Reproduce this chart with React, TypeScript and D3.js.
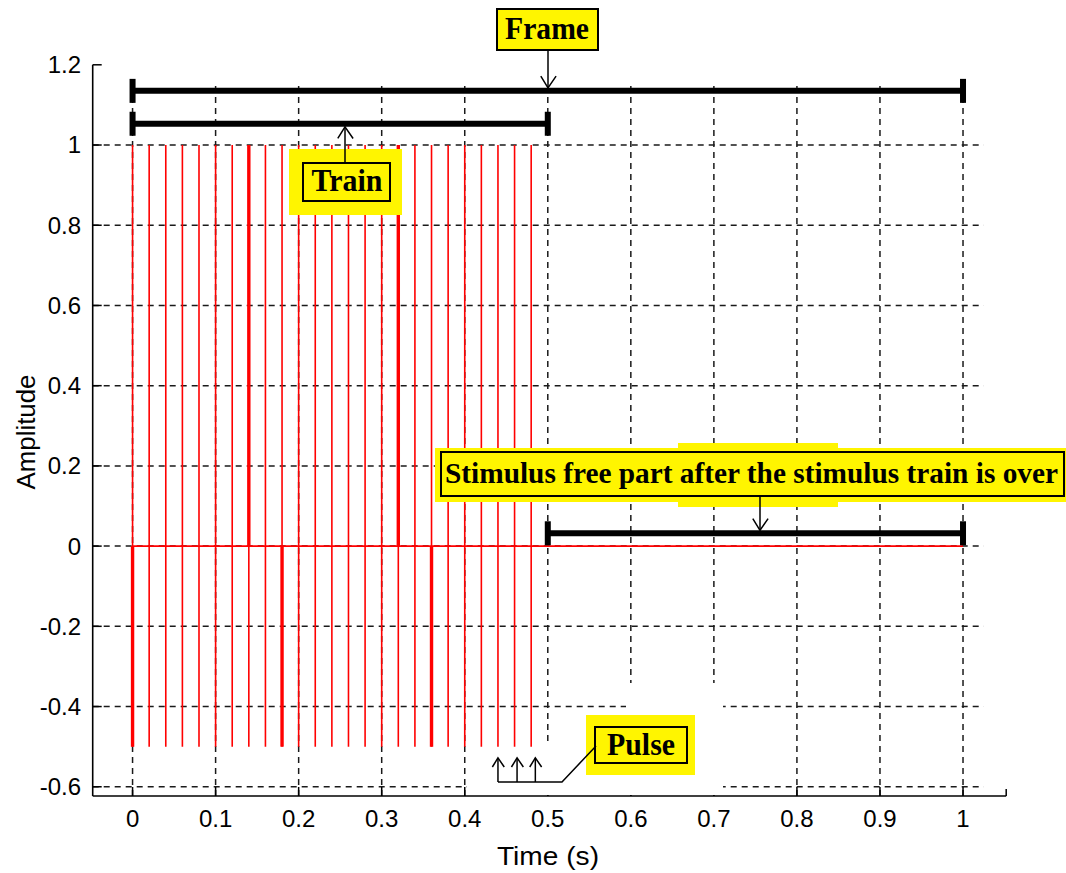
import React from 'react'
import { scaleLinear } from 'd3'

// axis ticks
const xTicks = [0, 0.1, 0.2, 0.3, 0.4, 0.5, 0.6, 0.7, 0.8, 0.9, 1]
const yTicks = [-0.6, -0.4, -0.2, 0, 0.2, 0.4, 0.6, 0.8, 1, 1.2]
const xTickLabels = ['0', '0.1', '0.2', '0.3', '0.4', '0.5', '0.6', '0.7', '0.8', '0.9', '1']
const yTickLabels = ['-0.6', '-0.4', '-0.2', '0', '0.2', '0.4', '0.6', '0.8', '1', '1.2']

// stimulus train: one biphasic pulse every 20 ms for the first half second
const pulseTimes = [
    0, 0.02, 0.04, 0.06, 0.08, 0.1, 0.12, 0.14, 0.16, 0.18, 0.2, 0.22, 0.24,
    0.26, 0.28, 0.3, 0.32, 0.34, 0.36, 0.38, 0.4, 0.42, 0.44, 0.46, 0.48,
]
const pulseHigh = 1
const pulseLow = -0.5
const heavyUpper = [0.14, 0.32]
const heavyLower = [0, 0.18, 0.36]
const baseline = [0, 1]

// bracket annotations
const frameSpan = [0, 1]
const frameLevel = 1.135
const trainSpan = [0, 0.5]
const trainLevel = 1.053
const freeSpan = [0.5, 1]
const freeLevel = 0.032
const pulseMarks = [0.44, 0.463, 0.485]
const pulseMarkTop = -0.528
const pulseMarkBottom = -0.588

const W = 1066
const H = 873

const YELLOW = '#fff500'
const SERIF = '"Liberation Serif", "Times New Roman", serif'
const SANS = '"Liberation Sans", Arial, sans-serif'

const x = scaleLinear().domain([-0.048, 1.052]).range([92.7, 1006.2])
const y = scaleLinear().domain([-0.623, 1.2]).range([796, 64.8])

// open "V" arrow head, tip at (tx, ty), pointing up or down
const arrowHead = (tx: number, ty: number, dir: 'up' | 'down', s = 9) => {
    const d = dir === 'up' ? s * 1.3 : -s * 1.3
    return `M${tx - s * 0.8},${ty + d} L${tx},${ty} L${tx + s * 0.9},${ty + d}`
}

const Bracket = ({ span, level }: { span: number[], level: number }) => {
    const x0 = x(span[0]), x1 = x(span[1]), yy = y(level)
    return (
        <g>
            <line x1={x0} x2={x1} y1={yy} y2={yy} stroke='#000' strokeWidth={6} />
            <rect x={x0 - 3} y={yy - 12} width={6} height={24} fill='#000' />
            <rect x={x1 - 3} y={yy - 12} width={6} height={24} fill='#000' />
        </g>
    )
}

// bold serif label, stretched a little vertically like the original
const Label = ({ cx, base, text, len, size = 28, anchor = 'middle' }:
    { cx: number, base: number, text: string, len: number, size?: number, anchor?: string }) => (
    <text transform={`translate(${cx},${base}) scale(1,1.12)`} fontFamily={SERIF} fontWeight='bold'
        fontSize={size} textAnchor={anchor} textLength={len} lengthAdjust='spacingAndGlyphs' fill='#000'>{text}</text>
)

const App = () => {
    const gridTop = y(1.15)
    const gridRight = x(1.025)

    return (
        <div style={{ position: 'absolute', left: 0, top: 0 }}>
            <svg width={W} height={H} style={{ display: 'block', background: '#fff' }}>
                {/* grid */}
                <g stroke='#1a1a1a' strokeWidth={1.5} strokeDasharray='6,5'>
                    {xTicks.map(t => (
                        <line key={'gx' + t} x1={x(t)} x2={x(t)} y1={y.range()[0]} y2={gridTop} />
                    ))}
                    {yTicks.filter(t => t < 1.2).map(t => (
                        <line key={'gy' + t} x1={x.range()[0]} x2={gridRight} y1={y(t)} y2={y(t)} />
                    ))}
                </g>
                {/* inward ticks */}
                <g stroke='#000' strokeWidth={1.5}>
                    {xTicks.map(t => (
                        <line key={'tx' + t} x1={x(t)} x2={x(t)} y1={y.range()[0]} y2={y.range()[0] - 9} />
                    ))}
                    {yTicks.map(t => (
                        <line key={'ty' + t} x1={x.range()[0]} x2={x.range()[0] + 9} y1={y(t)} y2={y(t)} />
                    ))}
                    <line x1={x.range()[1]} x2={x.range()[1]} y1={y.range()[0]} y2={y.range()[0] - 7} />
                </g>
                {/* blank areas left by the pulse annotation */}
                <rect x={626} y={683} width={97} height={112} fill='#fff' />
                <rect x={467} y={745} width={256} height={50} fill='#fff' />

                {/* signal */}
                <g stroke='#ff0000' strokeWidth={1.6}>
                    <line x1={x(baseline[0])} x2={x(baseline[1])} y1={y(0)} y2={y(0)} />
                    {pulseTimes.map(t => (
                        <line key={'p' + t} x1={x(t)} x2={x(t)} y1={y(pulseHigh)} y2={y(pulseLow)} />
                    ))}
                    {heavyUpper.map(t => (
                        <line key={'hu' + t} x1={x(t)} x2={x(t)} y1={y(pulseHigh)} y2={y(0)} strokeWidth={3.4} />
                    ))}
                    {heavyLower.map(t => (
                        <line key={'hl' + t} x1={x(t)} x2={x(t)} y1={y(0)} y2={y(pulseLow)} strokeWidth={3.4} />
                    ))}
                </g>

                {/* axes */}
                <g stroke='#000' strokeWidth={1.6} fill='none'>
                    <line x1={x.range()[0]} x2={x.range()[0]} y1={y.range()[1]} y2={y.range()[0]} />
                    <line x1={x.range()[0]} x2={x.range()[1]} y1={y.range()[0]} y2={y.range()[0]} />
                </g>
                <g fontFamily={SANS} fontSize={24} fill='#000'>
                    {xTicks.map((t, i) => (
                        <text key={'lx' + t} x={x(t)} y={827} textAnchor='middle'>{xTickLabels[i]}</text>
                    ))}
                    {yTicks.map((t, i) => (
                        <text key={'ly' + t} x={81} y={y(t)} dy='0.35em' textAnchor='end'>{yTickLabels[i]}</text>
                    ))}
                </g>
                <text x={548} y={865} fontFamily={SANS} fontSize={25} textAnchor='middle' fill='#000'
                    textLength={102} lengthAdjust='spacingAndGlyphs'>Time (s)</text>
                <text transform='translate(35,432) rotate(-90)' fontFamily={SANS} fontSize={25}
                    textAnchor='middle' fill='#000' textLength={115} lengthAdjust='spacingAndGlyphs'>Amplitude</text>

                {/* brackets */}
                <Bracket span={frameSpan} level={frameLevel} />
                <Bracket span={trainSpan} level={trainLevel} />
                <Bracket span={freeSpan} level={freeLevel} />

                {/* Frame label */}
                <rect x={497} y={9} width={101} height={41} fill={YELLOW} stroke='#000' strokeWidth={2} />
                <Label cx={547} base={39} text='Frame' len={84} />

                {/* Train label */}
                <rect x={289} y={149} width={113} height={66} fill={YELLOW} />
                <rect x={303} y={163} width={87} height={38} fill='none' stroke='#000' strokeWidth={2} />
                <Label cx={347} base={191} text='Train' len={71} />

                {/* stimulus free label */}
                <rect x={678} y={443} width={160} height={64} fill={YELLOW} />
                <rect x={435} y={448} width={631} height={54} fill={YELLOW} />
                <rect x={441} y={452} width={623} height={44} fill='none' stroke='#000' strokeWidth={2} />
                <Label cx={445} base={483} text='Stimulus free part after the stimulus train is over' len={613} size={26} anchor='start' />

                {/* Pulse label */}
                <rect x={586} y={715} width={109} height={60} fill={YELLOW} />
                <rect x={595} y={727} width={92} height={36} fill='none' stroke='#000' strokeWidth={2} />
                <Label cx={641} base={755} text='Pulse' len={68} />

                {/* arrows */}
                <g stroke='#000' fill='none' strokeWidth={1.5}>
                    <line x1={548} x2={548} y1={50} y2={y(frameLevel) - 3} />
                    <path d={arrowHead(548, y(frameLevel) - 3, 'down')} />
                    <line x1={345} x2={345} y1={163} y2={y(trainLevel) + 3} />
                    <path d={arrowHead(345, y(trainLevel) + 3, 'up')} />
                    <line x1={760} x2={760} y1={497} y2={y(freeLevel) - 3} />
                    <path d={arrowHead(760, y(freeLevel) - 3, 'down')} />
                    <path d={`M596,746 L562,${y(pulseMarkBottom)} L${x(pulseMarks[0])},${y(pulseMarkBottom)}`} />
                    {pulseMarks.map(t => (
                        <g key={'pm' + t}>
                            <line x1={x(t)} x2={x(t)} y1={y(pulseMarkBottom)} y2={y(pulseMarkTop)} />
                            <path d={arrowHead(x(t), y(pulseMarkTop), 'up', 7)} />
                        </g>
                    ))}
                </g>
            </svg>
        </div>
    )
}

export default App
